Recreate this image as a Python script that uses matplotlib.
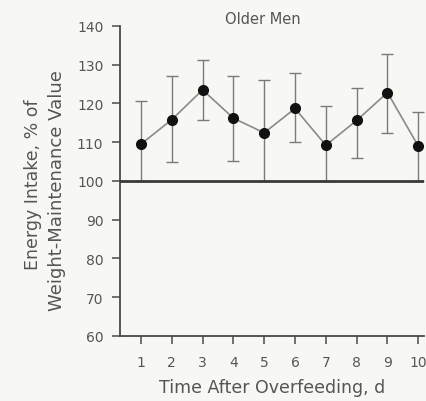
import numpy as np
import matplotlib.pyplot as plt

# Older men, energy intake after overfeeding
days = [1, 2, 3, 4, 5, 6, 7, 8, 9, 10]
intake = [109.5, 115.8, 123.5, 116.2, 112.4, 118.7, 109.2, 115.6, 122.8, 109.0]
err_low = [100.0, 104.8, 115.7, 105.1, 100.0, 110.0, 100.0, 105.9, 112.3, 100.0]
err_high = [120.7, 127.0, 131.2, 127.0, 126.1, 127.9, 119.4, 123.9, 132.8, 117.9]
yticks = [60, 70, 80, 90, 100, 110, 120, 130, 140]

bg = '#f7f7f4'
ink = '#4a4a4a'
txt = '#555555'

fig = plt.figure(figsize=(4.27, 4.02), dpi=100, facecolor=bg)
ax = fig.add_axes([0.281, 0.162, 0.713, 0.771], facecolor=bg)

y = np.array(intake)
lower = y - np.array(err_low)
upper = np.array(err_high) - y

ax.errorbar(days, intake, yerr=[lower, upper], fmt='none', ecolor='#7a7a7a',
            elinewidth=1.0, capsize=4, capthick=1.0, zorder=2)
ax.plot(days, intake, color='#8a8a8a', lw=1.2, zorder=3)
ax.plot(days, intake, 'o', color='#111111', ms=7, zorder=4)
ax.axhline(100, color='#3a3a3a', lw=2.0, zorder=5)

ax.set_xlim(0.32, 10.2)
ax.set_ylim(60, 140)
ax.set_xticks(days)
ax.set_yticks(yticks)

for s in ['top', 'right']:
    ax.spines[s].set_visible(False)
for s in ['left', 'bottom']:
    ax.spines[s].set_color(ink)
    ax.spines[s].set_linewidth(1.3)

ax.tick_params(direction='out', length=6, width=1.1, colors=ink,
               labelsize=10, labelcolor=txt)
ax.tick_params(axis='y', pad=6)
ax.tick_params(axis='x', pad=8)

ax.text(4.96, 141.8, 'Older Men', fontsize=10.5, color=txt, ha='center', va='center',
        clip_on=False)
ax.set_xlabel('Time After Overfeeding, d', fontsize=12.5, color=txt, labelpad=6)

# two-line y label, placed as separate lines
fig.text(0.078, 0.541, 'Energy Intake, % of', rotation=90, fontsize=12.5,
         color=txt, ha='center', va='center')
fig.text(0.134, 0.525, 'Weight-Maintenance Value', rotation=90, fontsize=13,
         color=txt, ha='center', va='center')

fig.savefig('out.png', dpi=100, facecolor=bg)
